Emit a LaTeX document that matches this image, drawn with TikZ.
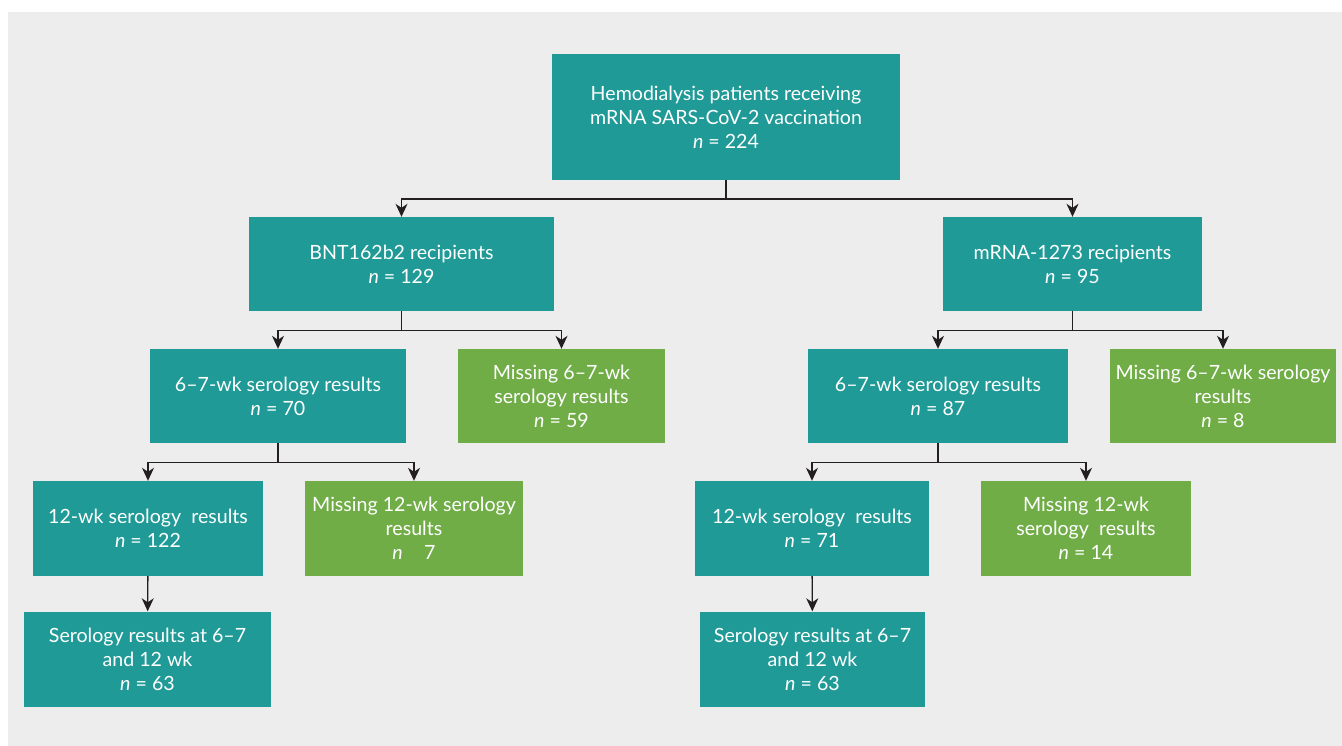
\documentclass[tikz,border=0pt]{standalone}
\usepackage{fontspec}
\setmainfont{Lato}
\usetikzlibrary{arrows.meta}
\definecolor{bgcol}{HTML}{EDEDED}
\definecolor{tealcol}{HTML}{1F9A97}
\definecolor{greencol}{HTML}{70AD47}
\definecolor{linecol}{HTML}{231F20}
\tikzset{
    mainbox/.style={fill=tealcol, text=white, align=center, inner sep=0pt,
        font=\fontsize{19.6}{24}\selectfont},
    missbox/.style={mainbox, fill=greencol},
    arr/.style={draw=linecol, line width=1.4pt,
        -{Stealth[length=13pt, width=12pt, inset=4pt]}}
}
\newcommand{\nn}[1]{\textit{n} = #1}
\begin{document}
\begin{tikzpicture}[x=1pt, y=-1pt]
    \useasboundingbox (0,0) rectangle (1342,746);
    \fill[bgcol] (8,12) rectangle (1342,746);

    \node[mainbox, minimum width=348pt, minimum height=126pt] (top) at (726,117)
        {Hemodialysis patients receiving\\mRNA SARS-CoV-2 vaccination\\\nn{224}};

    \node[mainbox, minimum width=305pt, minimum height=94pt] (bnt) at (401.5,264)
        {BNT162b2 recipients\\\nn{129}};
    \node[mainbox, minimum width=259pt, minimum height=94pt] (mrna) at (1072.5,264)
        {mRNA-1273 recipients\\\nn{95}};

    \node[mainbox, minimum width=256pt, minimum height=94pt] (bntsix) at (278,396)
        {6--7-wk serology results\\\nn{70}};
    \node[missbox, minimum width=207pt, minimum height=94pt] (bntmisssix) at (561.5,396)
        {Missing 6--7-wk\\serology results\\\nn{59}};
    \node[mainbox, minimum width=260pt, minimum height=94pt] (mrnasix) at (938,396)
        {6--7-wk serology results\\\nn{87}};
    \node[missbox, minimum width=226pt, minimum height=94pt] (mrnamisssix) at (1223,396)
        {Missing 6--7-wk serology\\results\\\nn{8}};

    \node[mainbox, minimum width=230pt, minimum height=95pt] (bnttwelve) at (148,528.5)
        {12-wk serology~ results\\\nn{122}};
    \node[missbox, minimum width=218pt, minimum height=95pt] (bntmisstwelve) at (414,528.5)
        {Missing 12-wk serology\\results\\\textit{n} \phantom{=} 7};
    \node[mainbox, minimum width=234pt, minimum height=95pt] (mrnatwelve) at (812,528.5)
        {12-wk serology~ results\\\nn{71}};
    \node[missbox, minimum width=210pt, minimum height=95pt] (mrnamisstwelve) at (1086,528.5)
        {Missing 12-wk\\serology~ results\\\nn{14}};

    \node[mainbox, minimum width=247pt, minimum height=95pt] (bntboth) at (147.5,659)
        {Serology results at 6--7\\and 12 wk\\\nn{63}};
    \node[mainbox, minimum width=225pt, minimum height=95pt] (mrnaboth) at (812.5,659)
        {Serology results at 6--7\\and 12 wk\\\nn{63}};

    \draw[arr] (top.south) -- ++(0,19) -| (bnt.north);
    \draw[arr] (top.south) -- ++(0,19) -| (mrna.north);
    \draw[arr] (bnt.south) -- ++(0,19) -| (bntsix.north);
    \draw[arr] (bnt.south) -- ++(0,19) -| (bntmisssix.north);
    \draw[arr] (mrna.south) -- ++(0,19) -| (mrnasix.north);
    \draw[arr] (mrna.south) -- ++(0,19) -| (mrnamisssix.north);
    \draw[arr] (bntsix.south) -- ++(0,19) -| (bnttwelve.north);
    \draw[arr] (bntsix.south) -- ++(0,19) -| (bntmisstwelve.north);
    \draw[arr] (mrnasix.south) -- ++(0,19) -| (mrnatwelve.north);
    \draw[arr] (mrnasix.south) -- ++(0,19) -| (mrnamisstwelve.north);
    \draw[arr] (bnttwelve) -- (bntboth);
    \draw[arr] (mrnatwelve) -- (mrnaboth);
\end{tikzpicture}
\end{document}
